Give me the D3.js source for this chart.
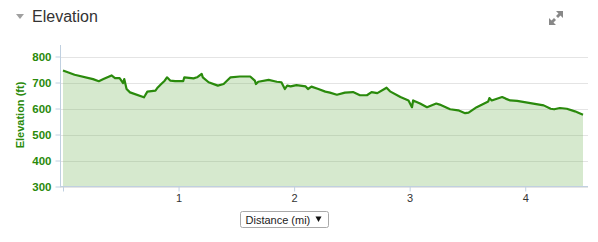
<!DOCTYPE html>
<html>
<head>
<meta charset="utf-8">
<script src="https://cdn.jsdelivr.net/npm/d3@7"></script>
<style>
    body { margin: 0; background: #fff; }
    svg { display: block; font-family: "Liberation Sans", Arial, sans-serif; }
</style>
</head>
<body>
<svg width="598" height="242"></svg>
<script>
//distance along the track (mi)
var distances = [0.00, 0.10, 0.26, 0.31, 0.35, 0.42, 0.45, 0.49, 0.52, 0.53, 0.55, 0.58, 0.70, 0.71, 0.73,
    0.80, 0.82, 0.85, 0.88, 0.90, 0.93, 0.97, 1.04, 1.05, 1.13, 1.16, 1.20, 1.21, 1.26, 1.34, 1.39, 1.45,
    1.53, 1.62, 1.66, 1.67, 1.69, 1.78, 1.85, 1.89, 1.92, 1.94, 1.97, 2.02, 2.10, 2.12, 2.15, 2.21, 2.27,
    2.31, 2.37, 2.44, 2.51, 2.57, 2.63, 2.67, 2.72, 2.80, 2.83, 2.92, 2.99, 3.02, 3.03, 3.09, 3.15, 3.23,
    3.26, 3.35, 3.42, 3.48, 3.51, 3.58, 3.68, 3.69, 3.71, 3.80, 3.83, 3.87, 3.93, 4.07, 4.16, 4.22, 4.25,
    4.30, 4.36, 4.43, 4.50];

//elevation (ft)
var elevations = [746, 730, 713, 705, 713, 727, 717, 717, 698, 713, 675, 662, 643, 650, 665,
    669, 681, 694, 707, 720, 707, 705, 705, 720, 716, 720, 733, 720, 701, 688, 694, 720,
    723, 723, 707, 694, 703, 710, 703, 701, 675, 688, 685, 690, 685, 675, 684, 675, 665,
    661, 653, 661, 663, 651, 651, 663, 659, 680, 666, 644, 631, 605, 631, 619, 605, 619,
    615, 597, 593, 582, 584, 605, 627, 640, 631, 644, 638, 631, 629, 619, 612, 599, 597,
    602, 599, 589, 576];

var yTicks = [300, 400, 500, 600, 700, 800];
var xTicks = [1, 2, 3, 4];

var data = distances.map(function (d, i) { return { x: d, y: elevations[i] }; });

var svg = d3.select("svg");
var green = "#2a8a0c",
    axisColor = "#c0d0e0";

//scales
var x = d3.scaleLinear().domain([0, 4.5]).range([63, 583]);
var y = d3.scaleLinear().domain([300, 800]).range([186.5, 56.5]);

//header
svg.append("path")
    .attr("d", "M16,14 L24,14 L20,19 Z")
    .attr("fill", "#a0a0a0");

svg.append("text")
    .attr("x", 32)
    .attr("y", 22)
    .attr("font-size", 16)
    .attr("fill", "#333")
    .text("Elevation");

//expand icon
svg.append("path")
    .attr("d", "M556,11 L563,11 L563,18 L560.5,15.5 L558,18 L556,16 L558.5,13.5 Z")
    .attr("fill", "#888");
svg.append("path")
    .attr("d", "M549,18 L549,25 L556,25 L553.5,22.5 L556,20 L554,18 L551.5,20.5 Z")
    .attr("fill", "#888");

//grid lines
svg.append("g")
    .selectAll("line")
    .data(yTicks)
    .enter()
    .append("line")
    .attr("x1", 60)
    .attr("x2", 588)
    .attr("y1", function (d) { return Math.round(y(d)) + 0.5; })
    .attr("y2", function (d) { return Math.round(y(d)) + 0.5; })
    .attr("stroke", "#e4e4e4");

//area + line
var area = d3.area()
    .x(function (d) { return x(d.x); })
    .y0(y(300))
    .y1(function (d) { return y(d.y); });

var line = d3.line()
    .x(function (d) { return x(d.x); })
    .y(function (d) { return y(d.y); });

svg.append("path")
    .datum(data)
    .attr("d", area)
    .attr("fill", "rgb(118,183,92)")
    .attr("fill-opacity", 0.3);

svg.append("path")
    .datum(data)
    .attr("d", line)
    .attr("fill", "none")
    .attr("stroke", green)
    .attr("stroke-width", 2.2)
    .attr("stroke-linejoin", "round");

//y axis
var yAxis = svg.append("g")
    .attr("transform", "translate(60.5,0)")
    .call(d3.axisLeft(y).tickValues(yTicks).tickSize(5).tickSizeOuter(0).tickPadding(4));
yAxis.select(".domain").remove();
yAxis.append("line")
    .attr("y1", 45)
    .attr("y2", 187)
    .attr("stroke", axisColor);
yAxis.selectAll(".tick line").attr("stroke", axisColor);
yAxis.selectAll(".tick text")
    .attr("fill", green)
    .attr("font-size", 11.5)
    .attr("font-weight", "bold")
    .attr("font-family", "Liberation Sans, Arial, sans-serif");

svg.append("text")
    .attr("transform", "translate(24,115) rotate(-90)")
    .attr("text-anchor", "middle")
    .attr("font-size", 11)
    .attr("font-weight", "bold")
    .attr("fill", green)
    .text("Elevation (ft)");

//x axis
var xAxis = svg.append("g")
    .attr("transform", "translate(0,186.5)")
    .call(d3.axisBottom(x).tickValues([0].concat(xTicks)).tickSize(5).tickSizeOuter(0).tickPadding(3)
        .tickFormat(function (d) { return d === 0 ? "" : d; }));
xAxis.select(".domain").remove();
xAxis.append("line")
    .attr("x1", 60)
    .attr("x2", 588)
    .attr("stroke", axisColor);
xAxis.selectAll(".tick line").attr("stroke", axisColor);
xAxis.selectAll(".tick text")
    .attr("fill", "#333")
    .attr("font-size", 11)
    .attr("font-family", "Liberation Sans, Arial, sans-serif");

//unit selector
svg.append("rect")
    .attr("x", 240.5)
    .attr("y", 211.5)
    .attr("width", 88)
    .attr("height", 16)
    .attr("rx", 2)
    .attr("fill", "#fff")
    .attr("stroke", "#a9a9a9");

svg.append("text")
    .attr("x", 245.5)
    .attr("y", 223.5)
    .attr("font-size", 11)
    .attr("font-family", "Liberation Sans, Arial, sans-serif")
    .attr("fill", "#222")
    .text("Distance (mi)");

svg.append("path")
    .attr("d", "M315.5,216.5 L321.5,216.5 L318.5,222 Z")
    .attr("fill", "#111");
</script>
</body>
</html>
